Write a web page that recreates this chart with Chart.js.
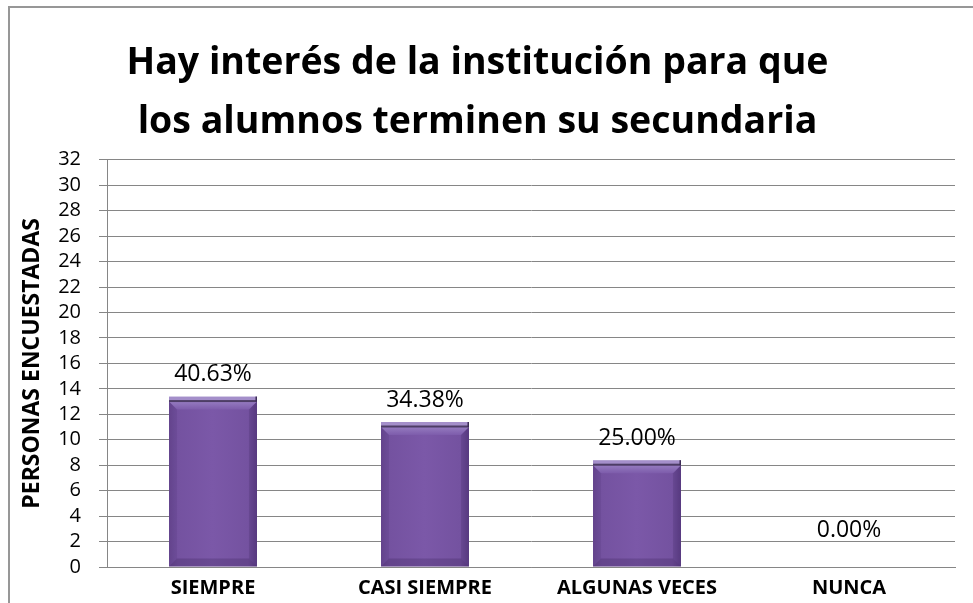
<!DOCTYPE html>
<html>
<head>
<meta charset="utf-8">
<script src="https://cdn.jsdelivr.net/npm/chart.js@4.4.1/dist/chart.umd.min.js"></script>
<style>
html,body{margin:0;padding:0;background:#fff;overflow:hidden;}
#wrap{position:absolute;left:0;top:0;width:973px;height:603px;}
#frame{position:absolute;left:8px;top:6px;width:1000px;height:700px;border-top:2px solid #979797;border-left:2px solid #979797;pointer-events:none;}
</style>
</head>
<body>
<div id="wrap"><canvas id="c" width="973" height="603"></canvas></div>
<div id="frame"></div>
<script>
const categories = ["SIEMPRE", "CASI SIEMPRE", "ALGUNAS VECES", "NUNCA"];
const personas = [13, 11, 8, 0];
const yTicks = [0, 2, 4, 6, 8, 10, 12, 14, 16, 18, 20, 22, 24, 26, 28, 30, 32];
const titleLines = ["Hay interés de la institución para que", "los alumnos terminen su secundaria"];
const yTitle = "PERSONAS ENCUESTADAS";

const total = personas.reduce((a, b) => a + b, 0);
const pctLabels = personas.map(v => (v / total * 100).toFixed(2) + "%");

const FONT = "'Open Sans', 'Liberation Sans', sans-serif";

const bevelPlugin = {
  id: 'bevel',
  afterDatasetsDraw(chart) {
    const ctx = chart.ctx;
    const meta = chart.getDatasetMeta(0);
    meta.data.forEach((bar, i) => {
      const v = personas[i];
      const half = bar.width / 2;
      const l = bar.x - half, r = bar.x + half, t = bar.y, b = bar.base;
      ctx.save();
      if (v > 0) {
        const g = ctx.createLinearGradient(l, 0, r, 0);
        g.addColorStop(0, '#684792');
        g.addColorStop(0.1, '#7452a0');
        g.addColorStop(0.5, '#7b58a8');
        g.addColorStop(0.9, '#7452a0');
        g.addColorStop(1, '#5e3f88');
        ctx.fillStyle = g;
        ctx.fillRect(l, t, r - l, b - t);
        const bv = 8;
        ctx.beginPath();
        ctx.moveTo(l, t); ctx.lineTo(r, t); ctx.lineTo(r - bv, t + bv); ctx.lineTo(l + bv, t + bv); ctx.closePath();
        const gt = ctx.createLinearGradient(0, t, 0, t + bv);
        gt.addColorStop(0, '#957bc0'); gt.addColorStop(1, '#7d5cab');
        ctx.fillStyle = gt; ctx.fill();
        ctx.beginPath();
        ctx.moveTo(l, t); ctx.lineTo(l + bv, t + bv); ctx.lineTo(l + bv, b - bv); ctx.lineTo(l, b); ctx.closePath();
        ctx.fillStyle = 'rgba(60,35,95,0.10)'; ctx.fill();
        ctx.beginPath();
        ctx.moveTo(r, t); ctx.lineTo(r - bv, t + bv); ctx.lineTo(r - bv, b - bv); ctx.lineTo(r, b); ctx.closePath();
        ctx.fillStyle = 'rgba(50,28,80,0.15)'; ctx.fill();
        ctx.beginPath();
        ctx.moveTo(l, b); ctx.lineTo(r, b); ctx.lineTo(r - bv, b - bv); ctx.lineTo(l + bv, b - bv); ctx.closePath();
        ctx.fillStyle = 'rgba(50,28,80,0.25)'; ctx.fill();
        ctx.fillStyle = '#a48fca';
        ctx.fillRect(l, t - 5, r - l, 4);
        ctx.fillStyle = '#4d3d66';
        ctx.fillRect(l, t - 1.5, r - l, 2);
        ctx.fillStyle = '#3c2c55';
        ctx.fillRect(r - 1.5, t - 5, 1.5, 5);
      }
      ctx.fillStyle = '#000';
      ctx.font = "23px " + FONT;
      ctx.textAlign = 'center';
      ctx.textBaseline = 'middle';
      ctx.fillText(pctLabels[i], bar.x, t - 27 - (v === 0 ? 10 : 0));
      ctx.restore();
    });
  }
};

new Chart(document.getElementById('c'), {
  type: 'bar',
  data: {
    labels: categories,
    datasets: [{
      data: personas,
      backgroundColor: 'rgba(0,0,0,0)',
      borderWidth: 0,
      categoryPercentage: 1,
      barPercentage: 0.415
    }]
  },
  options: {
    responsive: false,
    animation: false,
    events: [],
    layout: { padding: { top: 8, left: 0, right: 18, bottom: 0 } },
    plugins: {
      legend: { display: false },
      tooltip: { enabled: false },
      title: {
        display: true,
        text: titleLines,
        color: '#000',
        font: { family: FONT, size: 37.5, weight: 'bold', lineHeight: 1.57 },
        padding: { top: 25.5, bottom: 8.5 }
      }
    },
    scales: {
      x: {
        grid: { display: false, drawTicks: false },
        border: { display: true, color: '#868686', width: 1 },
        ticks: { color: '#000', padding: 9, font: { family: FONT, size: 20, weight: 'bold' }, maxRotation: 0, autoSkip: false },
        afterFit(s) { s.height = 36; }
      },
      y: {
        min: 0, max: 32,
        afterBuildTicks(s) { s.ticks = yTicks.map(v => ({ value: v })); },
        grid: { color: '#868686', lineWidth: 1, drawTicks: true, tickLength: 8, tickColor: '#868686' },
        border: { display: true, color: '#868686', width: 1 },
        ticks: { color: '#000', padding: 18, autoSkip: false, font: { family: FONT, size: 20, lineHeight: 1.0 } },
        title: {
          display: true, text: yTitle, color: '#000',
          font: { family: FONT, size: 23, weight: 'bold' },
          padding: { top: 19, bottom: 0 }
        },
        afterFit(s) { s.width = 107; }
      }
    }
  },
  plugins: [bevelPlugin]
});
</script>
</body>
</html>
